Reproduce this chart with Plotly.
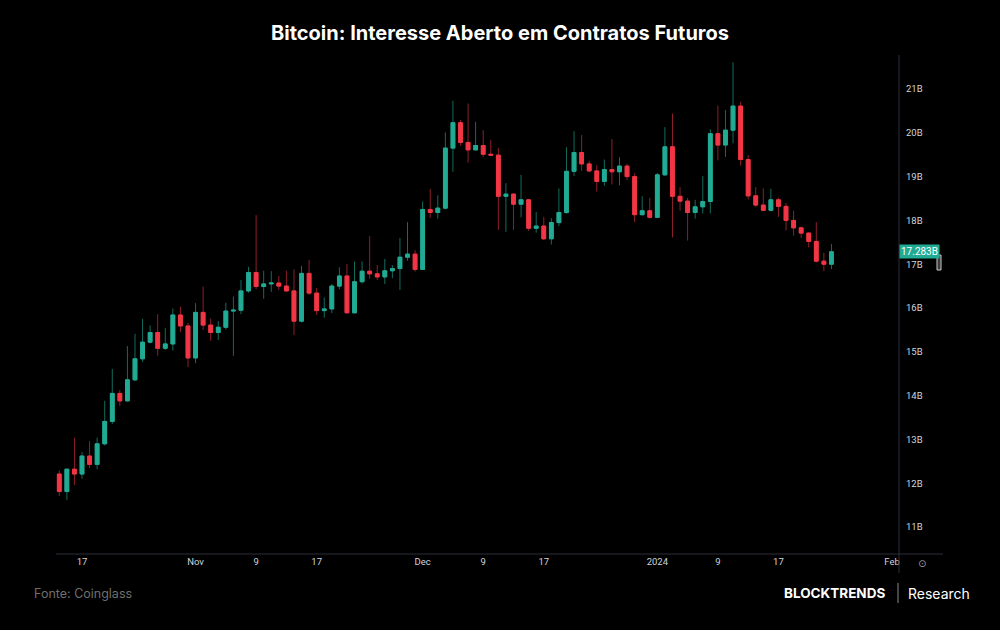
import pandas as pd
import plotly.graph_objects as go

dates = pd.date_range("2023-10-14", "2024-01-24", freq="D").strftime("%Y-%m-%d").tolist()

open_ = [12.21, 11.81, 12.32, 12.21, 12.62, 12.43, 12.90, 13.41, 14.05, 13.88,
         14.36, 14.84, 15.22, 15.44, 15.08, 15.18, 15.84, 15.59, 14.86, 15.90,
         15.61, 15.44, 15.56, 15.93, 15.95, 16.39, 16.81, 16.49, 16.55, 16.57,
         16.50, 16.39, 15.70, 16.79, 16.34, 15.94, 15.98, 16.50, 16.73, 15.89,
         16.60, 16.84, 16.78, 16.71, 16.85, 16.90, 17.16, 17.23, 16.88, 18.25,
         18.18, 18.28, 19.65, 20.23, 19.78, 19.61, 19.71, 19.51, 19.49, 18.55,
         18.60, 18.37, 18.47, 17.82, 17.87, 17.58, 17.95, 18.18, 19.12, 19.55,
         19.29, 19.13, 18.89, 19.16, 19.11, 19.24, 19.00, 18.13, 18.22, 18.07,
         19.04, 19.68, 18.55, 18.44, 18.18, 18.31, 18.43, 19.98, 19.72, 20.06,
         20.61, 19.39, 18.56, 18.35, 18.23, 18.47, 18.32, 18.00, 17.83, 17.71,
         17.52, 17.07, 17.00]
high = [12.29, 12.33, 13.04, 12.71, 12.96, 13.04, 13.88, 14.61, 14.13, 15.13,
        15.41, 15.75, 15.60, 15.86, 15.54, 15.99, 16.03, 15.66, 16.11, 16.49,
        15.76, 15.70, 16.12, 16.26, 16.64, 16.94, 18.12, 16.85, 16.84, 16.73,
        16.85, 16.88, 16.96, 17.10, 16.46, 16.24, 16.55, 16.93, 17.00, 17.06,
        17.06, 17.64, 16.98, 17.12, 16.98, 17.60, 17.96, 17.32, 18.43, 18.72,
        18.57, 20.01, 20.73, 20.29, 20.67, 20.25, 20.06, 19.84, 19.65, 18.85,
        18.62, 19.04, 18.48, 18.19, 18.08, 18.05, 18.73, 19.67, 20.04, 19.95,
        19.36, 19.26, 19.39, 19.86, 19.44, 19.29, 19.08, 18.55, 18.52, 19.08,
        20.13, 20.44, 18.76, 18.51, 18.47, 19.01, 20.08, 20.62, 20.52, 21.61,
        20.71, 19.49, 18.76, 18.73, 18.72, 18.52, 18.40, 18.22, 17.86, 17.73,
        17.96, 17.26, 17.46]
low = [11.71, 11.62, 11.96, 12.10, 12.35, 12.32, 12.86, 13.35, 13.76, 13.86,
       14.33, 14.77, 15.19, 14.91, 15.04, 15.03, 15.45, 14.65, 14.74, 15.50,
       15.25, 15.27, 15.51, 14.91, 15.86, 16.35, 16.43, 16.21, 16.37, 16.41,
       16.37, 15.38, 15.67, 16.30, 15.84, 15.78, 15.88, 16.43, 15.88, 15.88,
       16.56, 16.67, 16.64, 16.55, 16.68, 16.41, 17.08, 16.83, 16.87, 18.06,
       18.04, 18.25, 19.11, 19.71, 19.32, 19.60, 19.45, 19.47, 17.78, 17.74,
       17.78, 18.07, 17.76, 17.72, 17.55, 17.45, 17.87, 18.15, 19.01, 19.13,
       19.10, 18.66, 18.79, 18.82, 18.80, 18.92, 17.96, 18.11, 18.04, 18.06,
       19.01, 17.61, 18.22, 17.54, 18.04, 18.16, 18.16, 19.37, 19.45, 19.76,
       19.25, 18.48, 18.31, 18.21, 18.21, 18.08, 17.77, 17.65, 17.60, 17.38,
       17.04, 16.84, 16.89]
close = [11.81, 12.32, 12.21, 12.62, 12.43, 12.90, 13.41, 14.05, 13.88, 14.36,
         14.84, 15.22, 15.44, 15.08, 15.18, 15.84, 15.59, 14.86, 15.90, 15.61,
         15.44, 15.56, 15.93, 15.95, 16.39, 16.81, 16.49, 16.55, 16.57, 16.50,
         16.39, 15.70, 16.79, 16.34, 15.94, 15.98, 16.50, 16.73, 15.89, 16.60,
         16.84, 16.78, 16.71, 16.85, 16.90, 17.16, 17.23, 16.88, 18.25, 18.18,
         18.28, 19.65, 20.23, 19.78, 19.61, 19.71, 19.51, 19.49, 18.55, 18.60,
         18.37, 18.47, 17.82, 17.87, 17.58, 17.95, 18.18, 19.12, 19.55, 19.29,
         19.13, 18.89, 19.16, 19.11, 19.24, 19.00, 18.13, 18.22, 18.07, 19.04,
         19.68, 18.55, 18.44, 18.18, 18.31, 18.43, 19.98, 19.72, 20.06, 20.61,
         19.39, 18.56, 18.35, 18.23, 18.47, 18.32, 18.00, 17.83, 17.71, 17.52,
         17.07, 17.00, 17.283]

last_label = "17.283B"
y_ticks = [11, 12, 13, 14, 15, 16, 17, 18, 19, 20, 21]
y_ticktext = ["11B", "12B", "13B", "14B", "15B", "16B", "17B", "18B", "19B", "20B", "21B"]
x_ticks = ["2023-10-17", "2023-11-01", "2023-11-09", "2023-11-17", "2023-12-01",
           "2023-12-09", "2023-12-17", "2024-01-01", "2024-01-09", "2024-01-17", "2024-02-01"]
x_ticktext = ["17", "Nov", "9", "17", "Dec", "9", "17", "2024", "9", "17", "Feb"]

UP, DOWN = "#22ab94", "#f23645"
UP_W, DOWN_W = "#146b5e", "#8e1f2b"

body_hi = [max(o, c) for o, c in zip(open_, close)]
body_lo = [min(o, c) for o, c in zip(open_, close)]

fig = go.Figure()
# wicks
fig.add_trace(go.Candlestick(
    x=dates, open=open_, high=high, low=low, close=close,
    increasing=dict(line=dict(color=UP_W, width=1), fillcolor=UP_W),
    decreasing=dict(line=dict(color=DOWN_W, width=1), fillcolor=DOWN_W),
    hoverinfo="skip", showlegend=False))
# bodies
fig.add_trace(go.Candlestick(
    x=dates, open=open_, high=body_hi, low=body_lo, close=close,
    increasing=dict(line=dict(color=UP, width=1), fillcolor=UP),
    decreasing=dict(line=dict(color=DOWN, width=1), fillcolor=DOWN),
    hoverinfo="skip", showlegend=False))

L, R, T, B = 56, 899, 55, 554
W, H = R - L, B - T

def px(x):
    return (x - L) / W

def py(y):
    return (B - y) / H

axis_col = "#2a2e39"
fig.update_layout(
    width=1000, height=630,
    margin=dict(l=L, r=1000 - R, t=T, b=630 - B),
    paper_bgcolor="#000000", plot_bgcolor="#000000",
    boxgap=0.28,
    title=dict(text="<b>Bitcoin: Interesse Aberto em Contratos Futuros</b>",
               x=0.5, xref="container", xanchor="center",
               y=1 - 33 / 630, yref="container", yanchor="middle",
               font=dict(family="Inter", size=20, color="#ffffff")),
    xaxis=dict(type="date", range=["2023-10-13 13:34", "2024-02-01 22:12"],
               tickmode="array", tickvals=x_ticks, ticktext=x_ticktext,
               showgrid=False, zeroline=False, showline=False, ticks="",
               rangeslider=dict(visible=False),
               tickfont=dict(family="Roboto", size=9.5, color="#d1d4dc")),
    yaxis=dict(side="right", range=[10.384, 21.776],
               tickmode="array", tickvals=y_ticks, ticktext=y_ticktext,
               showgrid=False, zeroline=False, showline=False, ticks="",
               ticklabelstandoff=6,
               tickfont=dict(family="Roboto", size=9.5, color="#d1d4dc")),
    shapes=[
        dict(type="line", xref="paper", yref="paper", x0=0, x1=px(943), y0=0, y1=0,
             line=dict(color=axis_col, width=1)),
        dict(type="line", xref="paper", yref="paper", x0=1, x1=1, y0=py(573), y1=1,
             line=dict(color=axis_col, width=1)),
        dict(type="line", xref="paper", yref="paper", x0=px(898), x1=px(898),
             y0=py(583), y1=py(603), line=dict(color="#8a8a8a", width=1)),
        dict(type="rect", xref="paper", yref="paper", x0=px(937), x1=px(941),
             y0=py(270), y1=py(255), line=dict(color="#c8c8c8", width=1),
             fillcolor="#3a3a3a"),
    ],
    annotations=[
        dict(xref="paper", yref="y", x=1, y=close[-1], xanchor="left", yanchor="middle",
             text=last_label, showarrow=False, bgcolor=UP, borderpad=1,
             font=dict(family="Roboto", size=10, color="#ffffff")),
        dict(xref="paper", yref="paper", x=px(922), y=py(563), xanchor="center",
             yanchor="middle", text="⊙", showarrow=False,
             font=dict(family="DejaVu Sans", size=10, color="#9598a1")),
        dict(xref="paper", yref="paper", x=px(32), y=py(593), xanchor="left",
             yanchor="middle", text="Fonte: Coinglass", showarrow=False,
             font=dict(family="Inter", size=12.5, color="#6f6f6f")),
        dict(xref="paper", yref="paper", x=px(887), y=py(593), xanchor="right",
             yanchor="middle", text="<b>BLOCKTRENDS</b>", showarrow=False,
             font=dict(family="Inter", size=13.5, color="#ffffff")),
        dict(xref="paper", yref="paper", x=px(906), y=py(593), xanchor="left",
             yanchor="middle", text="Research", showarrow=False,
             font=dict(family="Inter", size=14, color="#ffffff")),
    ],
)

fig.write_html("out.html")
